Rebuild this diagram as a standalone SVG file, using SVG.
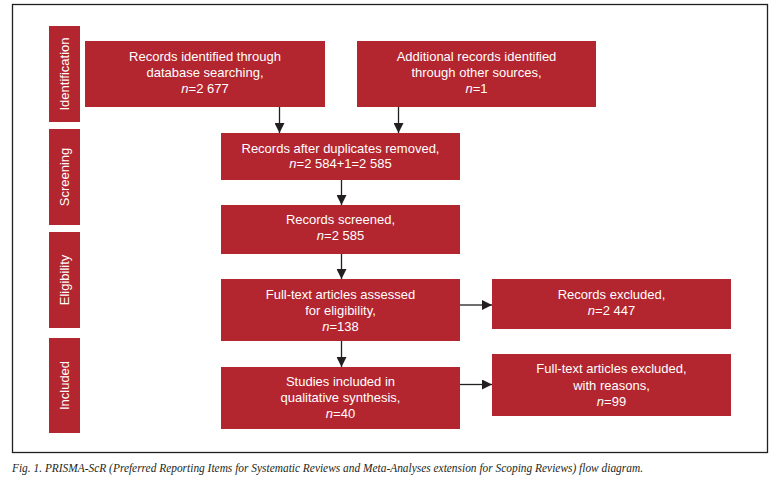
<svg xmlns="http://www.w3.org/2000/svg" width="782" height="487" viewBox="0 0 782 487">
<defs>
<style>
.box{fill:#B3252F;}
.t{font-family:"Liberation Sans",Arial,sans-serif;font-size:13px;fill:#ffffff;text-anchor:middle;}
.i{font-style:italic;}
.c{stroke:#231F20;stroke-width:1.3;fill:none;}
.cap{font-family:"Liberation Serif","Times New Roman",serif;font-style:italic;font-size:11.5px;fill:#231F20;}
</style>
<marker id="ah" viewBox="0 0 10 10" refX="10" refY="5" markerWidth="10" markerHeight="10" markerUnits="userSpaceOnUse" orient="auto">
<path d="M0,0 L10,5 L0,10 Z" fill="#231F20"/>
</marker>
</defs>
<rect x="0" y="0" width="782" height="487" fill="#ffffff"/>
<rect x="12.5" y="4.5" width="755" height="448" fill="none" stroke="#231F20" stroke-width="1.3"/>

<g id="phase-identification">
<rect class="box" x="49" y="26" width="31" height="96"/>
<text class="t" transform="translate(69,74) rotate(-90)">Identification</text>
</g>
<g id="phase-screening">
<rect class="box" x="49" y="129" width="31" height="96"/>
<text class="t" transform="translate(69,177) rotate(-90)">Screening</text>
</g>
<g id="phase-eligibility">
<rect class="box" x="49" y="232" width="31" height="96"/>
<text class="t" transform="translate(69,280) rotate(-90)">Eligibility</text>
</g>
<g id="phase-included">
<rect class="box" x="49" y="338" width="31" height="95"/>
<text class="t" transform="translate(69,385.5) rotate(-90)">Included</text>
</g>

<g id="db-records">
<rect class="box" x="85" y="41" width="240" height="66"/>
<text class="t" x="205" y="60.5">Records identified through</text>
<text class="t" x="205" y="76.5">database searching,</text>
<text class="t" x="205" y="92.5"><tspan class="i">n</tspan>=2 677</text>
</g>
<g id="other-records">
<rect class="box" x="357" y="41" width="239" height="66"/>
<text class="t" x="476.5" y="60.5">Additional records identified</text>
<text class="t" x="476.5" y="76.5">through other sources,</text>
<text class="t" x="476.5" y="92.5"><tspan class="i">n</tspan>=1</text>
</g>
<g id="dedup">
<rect class="box" x="221" y="133" width="239" height="47"/>
<text class="t" x="340.5" y="152.5">Records after duplicates removed,</text>
<text class="t" x="340.5" y="168"><tspan class="i">n</tspan>=2 584+1=2 585</text>
</g>
<g id="screened">
<rect class="box" x="221" y="205" width="239" height="49"/>
<text class="t" x="340.5" y="224">Records screened,</text>
<text class="t" x="340.5" y="240"><tspan class="i">n</tspan>=2 585</text>
</g>
<g id="fulltext">
<rect class="box" x="221" y="279" width="239" height="62"/>
<text class="t" x="340.5" y="298.5">Full-text articles assessed</text>
<text class="t" x="340.5" y="314.5">for eligibility,</text>
<text class="t" x="340.5" y="330.5"><tspan class="i">n</tspan>=138</text>
</g>
<g id="included">
<rect class="box" x="221" y="367" width="239" height="62"/>
<text class="t" x="340.5" y="386">Studies included in</text>
<text class="t" x="340.5" y="402">qualitative synthesis,</text>
<text class="t" x="340.5" y="418"><tspan class="i">n</tspan>=40</text>
</g>
<g id="records-excluded">
<rect class="box" x="492" y="279" width="239" height="50"/>
<text class="t" x="611.5" y="298.5">Records excluded,</text>
<text class="t" x="611.5" y="314.5"><tspan class="i">n</tspan>=2 447</text>
</g>
<g id="fulltext-excluded">
<rect class="box" x="492" y="354" width="239" height="62"/>
<text class="t" x="611.5" y="372.5">Full-text articles excluded,</text>
<text class="t" x="611.5" y="389.5">with reasons,</text>
<text class="t" x="611.5" y="406"><tspan class="i">n</tspan>=99</text>
</g>

<g id="connectors">
<line class="c" x1="279.5" y1="107" x2="279.5" y2="133" marker-end="url(#ah)"/>
<line class="c" x1="398.5" y1="107" x2="398.5" y2="133" marker-end="url(#ah)"/>
<line class="c" x1="341.5" y1="180" x2="341.5" y2="205" marker-end="url(#ah)"/>
<line class="c" x1="341.5" y1="254" x2="341.5" y2="279" marker-end="url(#ah)"/>
<line class="c" x1="341.5" y1="341" x2="341.5" y2="367" marker-end="url(#ah)"/>
<line class="c" x1="460" y1="305" x2="492" y2="305" marker-end="url(#ah)"/>
<line class="c" x1="460" y1="384.5" x2="492" y2="384.5" marker-end="url(#ah)"/>
</g>

<text class="cap" x="12" y="471.5" textLength="631" lengthAdjust="spacingAndGlyphs">Fig. 1. PRISMA-ScR (Preferred Reporting Items for Systematic Reviews and Meta-Analyses extension for Scoping Reviews) flow diagram.</text>
</svg>
